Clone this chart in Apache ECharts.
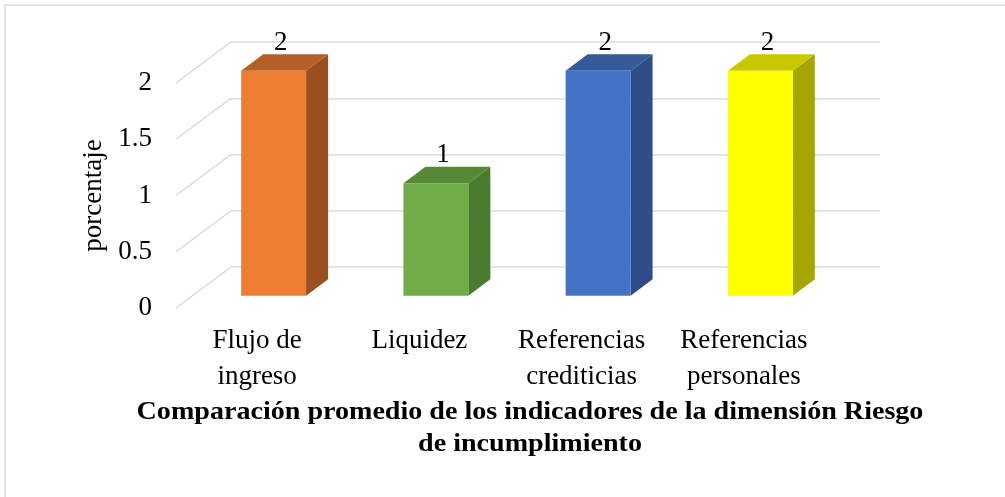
<!DOCTYPE html>
<html>
<head>
<meta charset="utf-8">
<script src="https://cdn.jsdelivr.net/npm/echarts@6/dist/echarts.min.js"></script>
<style>
  html, body { margin: 0; padding: 0; background: #ffffff; }
  #chart { width: 1005px; height: 497px; }
</style>
</head>
<body>
<div id="chart"></div>
<script>
// Indicator categories and their average values
const categories = ['Flujo de\ningreso', 'Liquidez', 'Referencias\ncrediticias', 'Referencias\npersonales'];
const values = [2, 1, 2, 2];
const yTicks = [0, 0.5, 1, 1.5, 2];
const chartTitle = 'Comparación promedio de los indicadores de la dimensión Riesgo\nde incumplimiento';
const axisName = 'porcentaje';

// Face colours per bar: front, top, side
const faceColors = [
  { front: '#ED7D31', top: '#B45F27', side: '#9A501E' },
  { front: '#70AD47', top: '#568A36', side: '#4A7A2E' },
  { front: '#4472C4', top: '#36599A', side: '#2E4C87' },
  { front: '#FFFF00', top: '#C8C800', side: '#A6A600' }
];

// Perspective: offset from the back wall to the front edge of the floor
const DEPTH_X = -55;
const DEPTH_Y = 41;
// Bars occupy the middle 40% of the floor depth
const BAR_FRONT = 0.7;
const BAR_BACK = 0.3;
const BAR_WIDTH_RATIO = 0.4;
const FONT = "'Liberation Serif', 'Times New Roman', serif";
const FONT_SIZE = 27;

const chart = echarts.init(document.getElementById('chart'), null, { renderer: 'canvas' });

function renderDiagonal(params, api) {
  const v = api.value(0);
  const p = api.coord([0, v]);
  const half = api.size([1, 0])[0] / 2;
  const x0 = p[0] - half;
  return {
    type: 'line',
    shape: { x1: x0, y1: p[1], x2: x0 + DEPTH_X, y2: p[1] + DEPTH_Y },
    style: { stroke: '#D9D9D9', lineWidth: 1.5 },
    silent: true
  };
}

function renderBar(params, api) {
  const idx = api.value(0);
  const val = api.value(1);
  const base = api.coord([idx, 0]);
  const top = api.coord([idx, val]);
  const w = api.size([1, 0])[0] * BAR_WIDTH_RATIO;
  const cx = base[0];
  const c = faceColors[idx];

  const fx = cx - w / 2 + DEPTH_X * BAR_FRONT;
  const fdy = DEPTH_Y * BAR_FRONT;
  const bx = cx - w / 2 + DEPTH_X * BAR_BACK;
  const bdy = DEPTH_Y * BAR_BACK;

  const fTop = top[1] + fdy, fBot = base[1] + fdy;
  const bTop = top[1] + bdy, bBot = base[1] + bdy;

  const front = {
    type: 'rect',
    shape: { x: fx, y: fTop, width: w, height: fBot - fTop },
    style: { fill: c.front }
  };
  const topFace = {
    type: 'polygon',
    shape: { points: [[fx, fTop], [fx + w, fTop], [bx + w, bTop], [bx, bTop]] },
    style: { fill: c.top }
  };
  const side = {
    type: 'polygon',
    shape: { points: [[fx + w, fTop], [bx + w, bTop], [bx + w, bBot], [fx + w, fBot]] },
    style: { fill: c.side }
  };
  const midX = cx + DEPTH_X * 0.5;
  const midY = top[1] + DEPTH_Y * 0.5;
  const label = {
    type: 'text',
    x: midX - 4,
    y: midY - 20,
    style: {
      text: String(val),
      font: FONT_SIZE + 'px ' + FONT,
      fill: '#000000',
      textAlign: 'center',
      textVerticalAlign: 'middle'
    },
    z2: 10
  };
  return { type: 'group', children: [side, topFace, front, label] };
}

const option = {
  backgroundColor: '#ffffff',
  animation: false,
  grid: [
    // back wall
    { left: 231, right: 125, top: 42, bottom: 230 },
    // front edge of the floor
    { left: 176, right: 180, top: 83, bottom: 189 }
  ],
  xAxis: [
    {
      gridIndex: 0, type: 'category', data: categories,
      axisLine: { show: false }, axisTick: { show: false }, axisLabel: { show: false }
    },
    {
      gridIndex: 1, type: 'category', data: categories,
      axisLine: { show: false }, axisTick: { show: false },
      axisLabel: {
        show: true, interval: 0, margin: 15,
        color: '#000000', fontFamily: FONT, fontSize: FONT_SIZE, lineHeight: 36
      }
    }
  ],
  yAxis: [
    {
      gridIndex: 0, type: 'value', min: 0, max: 2, interval: 0.5,
      axisLine: { show: false }, axisTick: { show: false }, axisLabel: { show: false },
      splitLine: { show: true, lineStyle: { color: '#D9D9D9', width: 1.5 } }
    },
    {
      gridIndex: 1, type: 'value', min: 0, max: 2, interval: 0.5,
      axisLine: { show: false }, axisTick: { show: false },
      splitLine: { show: false },
      axisLabel: {
        show: true, margin: 24, color: '#000000', fontFamily: FONT, fontSize: FONT_SIZE
      },
      name: axisName, nameLocation: 'middle', nameRotate: 90, nameGap: 64,
      nameTextStyle: { color: '#000000', fontFamily: FONT, fontSize: FONT_SIZE }
    }
  ],
  graphic: [
    {
      type: 'rect', z: -10, silent: true,
      shape: { x: 5, y: 5, width: 1010, height: 510 },
      style: { fill: 'none', stroke: '#D9D9D9', lineWidth: 1.5 }
    },
    {
      type: 'text', x: 530, y: 396, scaleX: 1.08, silent: true,
      style: {
        text: chartTitle, font: 'bold 26px ' + FONT, fill: '#000000',
        textAlign: 'center', lineHeight: 32
      }
    }
  ],
  series: [
    {
      type: 'custom', xAxisIndex: 0, yAxisIndex: 0,
      renderItem: renderDiagonal,
      data: yTicks.map(v => [v]),
      encode: { y: 0 },
      z: 1
    },
    {
      type: 'custom', xAxisIndex: 0, yAxisIndex: 0,
      renderItem: renderBar,
      data: values.map((v, i) => [i, v]),
      encode: { x: 0, y: 1 },
      z: 5
    }
  ]
};

chart.setOption(option);
</script>
</body>
</html>
